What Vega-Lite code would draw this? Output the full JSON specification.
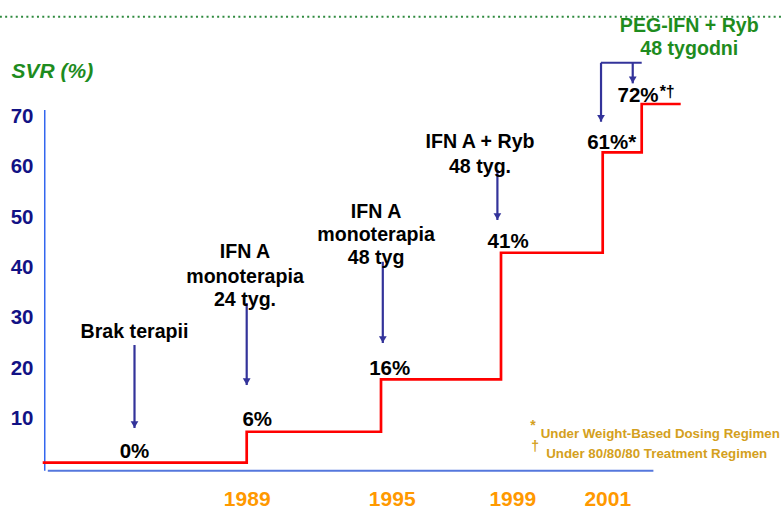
{
  "$schema": "https://vega.github.io/schema/vega-lite/v6.json",
  "width": 739,
  "height": 471,
  "padding": {"left": 44, "top": 0, "right": 0, "bottom": 38},
  "autosize": {"type": "none"},
  "background": "white",
  "config": {"view": {"stroke": null}, "font": "Liberation Sans"},
  "datasets": {
    "dots": [{"year": 1981.74, "year2": 2005.62, "svr": 89.89}],
    "yline": [{"year": 1983.06, "svr": -0.42, "svr2": 71.33}],
    "xline": [{"year": 1983.15, "year2": 2002.3, "svr": -0.42}],
    "steps": [
      {"year": 1983, "svr": 1.17},
      {"year": 1989, "svr": 7.33},
      {"year": 1995, "svr": 17.76},
      {"year": 1999, "svr": 42.94},
      {"year": 2001, "svr": 62.92},
      {"year": 2002, "svr": 72.53},
      {"year": 2003, "svr": 72.53}
    ],
    "arrows": [
      {"year": 1985.7, "svr": 8.07, "svr2": 24.58},
      {"year": 1989.0, "svr": 16.62, "svr2": 32.94},
      {"year": 1995.06, "svr": 24.98, "svr2": 41.15},
      {"year": 1998.88, "svr": 49.45, "svr2": 59.4},
      {"year": 2000.967, "svr": 69.0, "svr2": 80.74},
      {"year": 2001.77, "svr": 76.64, "svr2": 80.74}
    ],
    "bracket": [{"year": 2000.967, "year2": 2002.0, "svr": 80.74}],
    "notes": [
      {"year": 1985.7, "svr": 27.23, "label": "Brak terapii"},
      {"year": 1988.95, "svr": 43.08, "label": "IFN A"},
      {"year": 1988.95, "svr": 38.17, "label": "monoterapia"},
      {"year": 1988.95, "svr": 33.53, "label": "24 tyg."},
      {"year": 1994.78, "svr": 51.1, "label": "IFN A"},
      {"year": 1994.78, "svr": 46.46, "label": "monoterapia"},
      {"year": 1994.78, "svr": 41.83, "label": "48 tyg"},
      {"year": 1998.3, "svr": 64.91, "label": "IFN A + Ryb"},
      {"year": 1998.3, "svr": 60.05, "label": "48 tyg."}
    ],
    "pct": [
      {"year": 1985.7, "svr": 3.27, "label": "0%"},
      {"year": 1989.47, "svr": 9.66, "label": "6%"},
      {"year": 1995.29, "svr": 19.77, "label": "16%"},
      {"year": 1999.14, "svr": 45.03, "label": "41%"},
      {"year": 2001.23, "svr": 64.86, "label": "61%*"},
      {"year": 2001.905, "svr": 74.16, "label": "72%"}
    ],
    "sup": [{"year": 2002.46, "svr": 74.91, "label": "*†"}],
    "green": [
      {"year": 2003.22, "svr": 87.98, "label": "PEG-IFN + Ryb"},
      {"year": 2003.22, "svr": 83.5, "label": "48 tygodni"}
    ],
    "foot": [
      {"year": 1999.78, "svr": 6.78, "label": "Under Weight-Based Dosing Regimen"},
      {"year": 1999.89, "svr": 2.84, "label": "Under 80/80/80 Treatment Regimen"}
    ],
    "footsym": [
      {"year": 1999.63, "svr": 8.5, "label": "*"},
      {"year": 1999.67, "svr": 4.3, "label": "†"}
    ]
  },
  "encoding": {
    "x": {
      "field": "year",
      "type": "quantitative",
      "scale": {
        "domain": [1983, 1989, 1995, 1999, 2001, 2002, 2003],
        "range": [-1.3, 202.7, 337, 457, 558.7, 597.7, 636.7],
        "nice": false,
        "zero": false
      },
      "axis": {
        "values": [1989, 1995, 1999, 2001],
        "format": "d",
        "title": null,
        "domain": false,
        "ticks": false,
        "tickSize": 0,
        "grid": false,
        "labelFont": "Liberation Sans",
        "labelFontWeight": "bold",
        "labelFontSize": 21,
        "labelColor": "#ff9900",
        "labelPadding": 28,
        "labelBaseline": "middle",
        "labelFlush": false,
        "labelOverlap": false,
        "labelOffset": {
          "condition": [
            {"test": "datum.value == 1995", "value": 10.7},
            {"test": "datum.value == 1999", "value": 11.3},
            {"test": "datum.value == 2001", "value": 4.6}
          ],
          "value": 0
        }
      }
    },
    "y": {
      "field": "svr",
      "type": "quantitative",
      "scale": {"domain": [-0.483, 93.22], "nice": false, "zero": false},
      "axis": {
        "values": [10, 20, 30, 40, 50, 60, 70],
        "title": "SVR (%)",
        "domain": false,
        "ticks": false,
        "tickSize": 0,
        "grid": false,
        "labelFont": "Liberation Sans",
        "labelFontSize": 20.5,
        "labelFontWeight": "bold",
        "labelColor": "#121285",
        "labelPadding": 11,
        "titleFont": "Liberation Sans",
        "titleAngle": 0,
        "titleX": -33,
        "titleY": 71.7,
        "titleAlign": "left",
        "titleBaseline": "middle",
        "titleFontSize": 21,
        "titleFontStyle": "italic",
        "titleFontWeight": "bold",
        "titleColor": "#1e8c1e"
      }
    }
  },
  "layer": [
    {
      "data": {"name": "dots"},
      "mark": {"type": "rule", "stroke": "#2f8a3f", "strokeWidth": 2, "strokeDash": [2, 3.3]},
      "encoding": {"x2": {"field": "year2"}}
    },
    {
      "data": {"name": "yline"},
      "mark": {"type": "rule", "stroke": "#3366ee", "strokeWidth": 1.5},
      "encoding": {"y2": {"field": "svr2"}}
    },
    {
      "data": {"name": "xline"},
      "mark": {"type": "rule", "stroke": "#5577dd", "strokeWidth": 2},
      "encoding": {"x2": {"field": "year2"}}
    },
    {
      "data": {"name": "steps"},
      "mark": {"type": "line", "interpolate": "step-after", "stroke": "#ff0000", "strokeWidth": 2.7},
      "encoding": {}
    },
    {
      "data": {"name": "arrows"},
      "mark": {"type": "rule", "stroke": "#33339a", "strokeWidth": 2.2},
      "encoding": {"y2": {"field": "svr2"}}
    },
    {
      "data": {"name": "arrows"},
      "mark": {"type": "point", "shape": "triangle-down", "filled": true, "size": 60, "color": "#33339a", "opacity": 1, "yOffset": -3.5}
    },
    {
      "data": {"name": "bracket"},
      "mark": {"type": "rule", "stroke": "#33339a", "strokeWidth": 2.2},
      "encoding": {"x2": {"field": "year2"}}
    },
    {
      "data": {"name": "notes"},
      "mark": {"type": "text", "font": "Liberation Sans", "fontWeight": "bold", "fontSize": 19.6, "color": "#000000", "align": "center", "baseline": "middle"},
      "encoding": {"text": {"field": "label"}}
    },
    {
      "data": {"name": "pct"},
      "mark": {"type": "text", "font": "Liberation Sans", "fontWeight": "bold", "fontSize": 20.5, "color": "#000000", "align": "center", "baseline": "middle"},
      "encoding": {"text": {"field": "label"}}
    },
    {
      "data": {"name": "sup"},
      "mark": {"type": "text", "font": "Liberation Sans", "fontWeight": "bold", "fontSize": 16, "color": "#000000", "align": "left", "baseline": "middle"},
      "encoding": {"text": {"field": "label"}}
    },
    {
      "data": {"name": "green"},
      "mark": {"type": "text", "font": "Liberation Sans", "fontWeight": "bold", "fontSize": 19.6, "color": "#1e8c1e", "align": "center", "baseline": "middle"},
      "encoding": {"text": {"field": "label"}}
    },
    {
      "data": {"name": "foot"},
      "mark": {"type": "text", "font": "Liberation Sans", "fontWeight": "bold", "fontSize": 13.3, "color": "#d4a020", "align": "left", "baseline": "middle"},
      "encoding": {"text": {"field": "label"}}
    },
    {
      "data": {"name": "footsym"},
      "mark": {"type": "text", "font": "Liberation Sans", "fontWeight": "bold", "fontSize": 14, "color": "#d4a020", "align": "center", "baseline": "middle"},
      "encoding": {"text": {"field": "label"}}
    }
  ]
}
